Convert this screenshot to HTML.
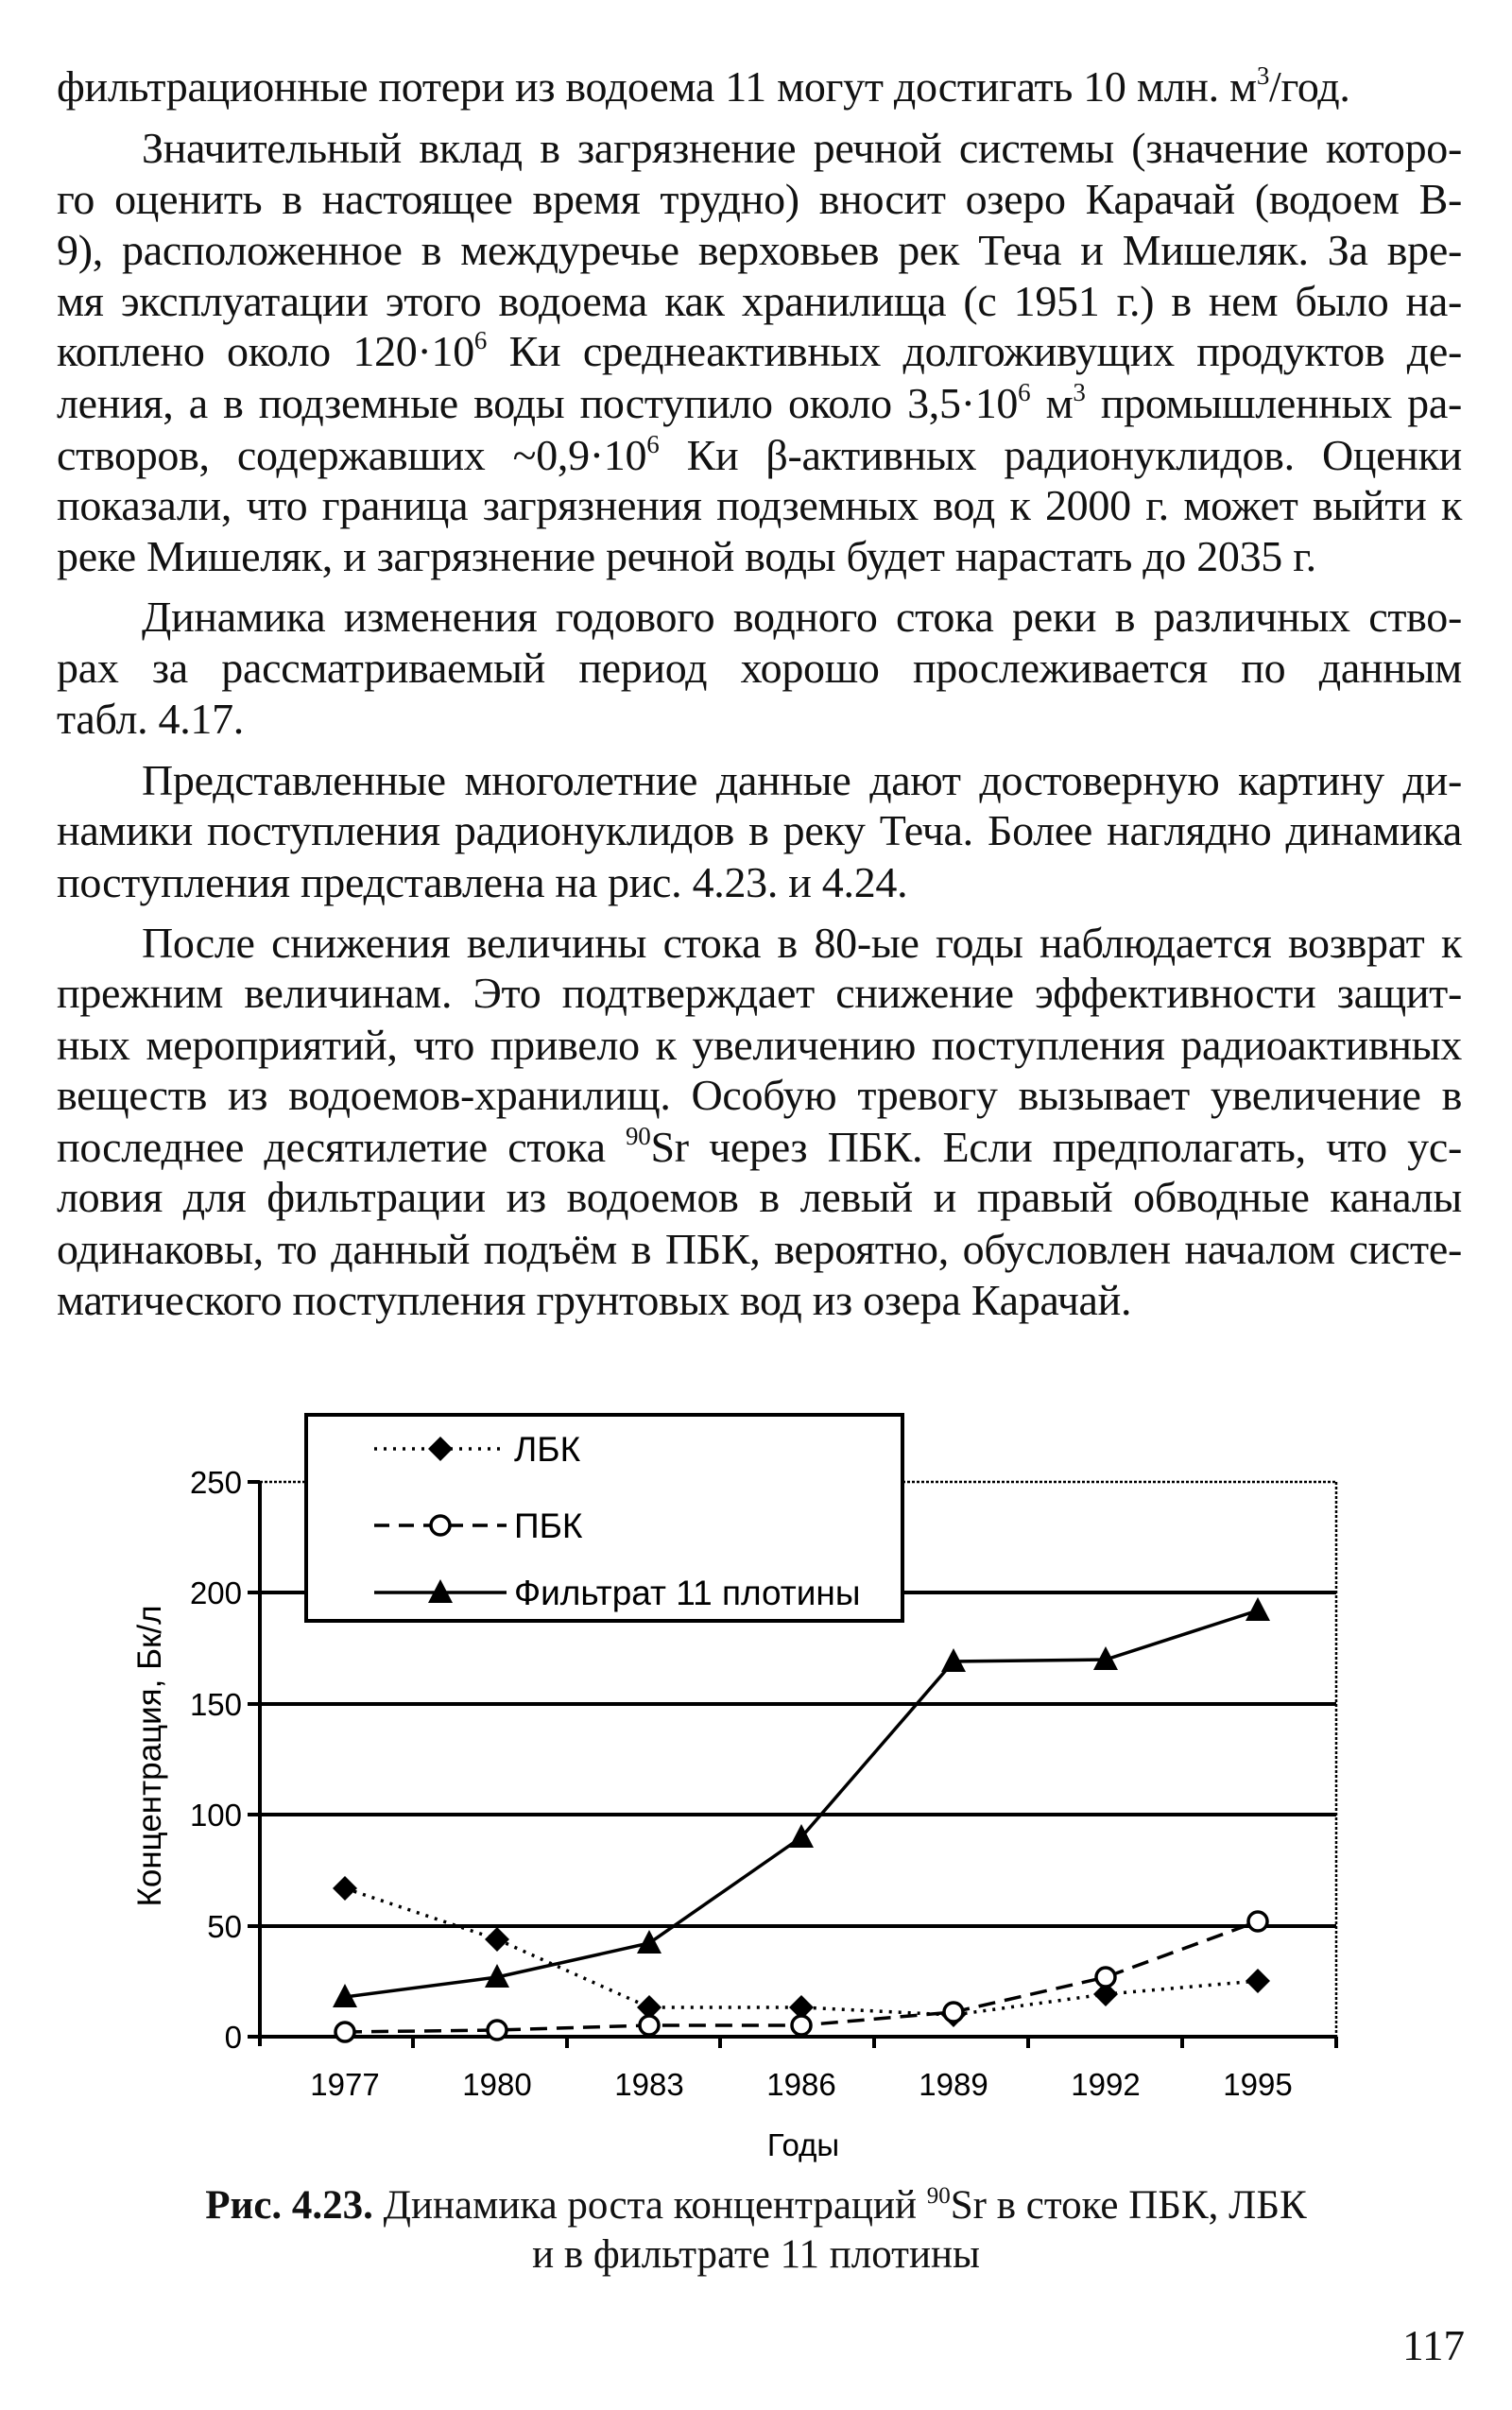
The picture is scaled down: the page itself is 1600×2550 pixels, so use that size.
<!DOCTYPE html>
<html><head><meta charset="utf-8"><style>
body{margin:0;background:#fff;width:1600px;height:2550px;position:relative;overflow:hidden;font-family:"Liberation Serif","Noto Serif CJK SC",serif;color:#111}
.l{position:absolute;left:60px;width:1487px;height:54px;line-height:54px;font-size:46px;letter-spacing:-0.3px;text-align:justify;text-align-last:justify;white-space:nowrap}
.l.n{text-align-last:left}
.l.i{left:150px;width:1397px}
sup{font-size:27px;line-height:0;vertical-align:18px}
svg{position:absolute;left:0;top:0}
</style></head><body>
<div class="l n" style="top:65px">фильтрационные потери из водоема 11 могут достигать 10 млн. м<sup>3</sup>/год.</div>
<div class="l i" style="top:130px">Значительный вклад в загрязнение речной системы (значение которо-</div>
<div class="l" style="top:184px">го оценить в настоящее время трудно) вносит озеро Карачай (водоем В-</div>
<div class="l" style="top:238px">9), расположенное в междуречье верховьев рек Теча и Мишеляк. За вре-</div>
<div class="l" style="top:292px">мя эксплуатации этого водоема как хранилища (с 1951 г.) в нем было на-</div>
<div class="l" style="top:345px">коплено около 120·10<sup>6</sup> Ки среднеактивных долгоживущих продуктов де-</div>
<div class="l" style="top:400px">ления, а в подземные воды поступило около 3,5·10<sup>6</sup> м<sup>3</sup> промышленных ра-</div>
<div class="l" style="top:455px">створов, содержавших ~0,9·10<sup>6</sup> Ки β-активных радионуклидов. Оценки</div>
<div class="l" style="top:508px">показали, что граница загрязнения подземных вод к 2000 г. может выйти к</div>
<div class="l n" style="top:562px">реке Мишеляк, и загрязнение речной воды будет нарастать до 2035 г.</div>
<div class="l i" style="top:626px">Динамика изменения годового водного стока реки в различных ство-</div>
<div class="l" style="top:680px">рах за рассматриваемый период хорошо прослеживается по данным</div>
<div class="l n" style="top:734px">табл. 4.17.</div>
<div class="l i" style="top:799px">Представленные многолетние данные дают достоверную картину ди-</div>
<div class="l" style="top:852px">намики поступления радионуклидов в реку Теча. Более наглядно динамика</div>
<div class="l n" style="top:907px">поступления представлена на рис. 4.23. и 4.24.</div>
<div class="l i" style="top:971px">После снижения величины стока в 80-ые годы наблюдается возврат к</div>
<div class="l" style="top:1024px">прежним величинам. Это подтверждает снижение эффективности защит-</div>
<div class="l" style="top:1079px">ных мероприятий, что привело к увеличению поступления радиоактивных</div>
<div class="l" style="top:1132px">веществ из водоемов-хранилищ. Особую тревогу вызывает увеличение в</div>
<div class="l" style="top:1187px">последнее десятилетие стока <sup>90</sup>Sr через ПБК. Если предполагать, что ус-</div>
<div class="l" style="top:1240px">ловия для фильтрации из водоемов в левый и правый обводные каналы</div>
<div class="l" style="top:1295px">одинаковы, то данный подъём в ПБК, вероятно, обусловлен началом систе-</div>
<div class="l n" style="top:1349px">матического поступления грунтовых вод из озера Карачай.</div>

<svg width="1600" height="2550" viewBox="0 0 1600 2550" font-family="Liberation Sans, sans-serif">
<defs>
<path id="d" d="M0,-13 L13,0 L0,13 L-13,0Z" fill="#000"/>
<circle id="c" r="10" fill="#fff" stroke="#000" stroke-width="3.5"/>
<path id="t" d="M0,-14 L13,11 L-13,11Z" fill="#000"/>
</defs>
<g stroke="#000">
<line x1="275" y1="1568" x2="1414" y2="1568" stroke-width="2.5" stroke-dasharray="3,2"/>
<line x1="1414" y1="1568" x2="1414" y2="2155" stroke-width="2.5" stroke-dasharray="3,2"/>
<line x1="275" y1="1685" x2="1414" y2="1685" stroke-width="4"/>
<line x1="275" y1="1803" x2="1414" y2="1803" stroke-width="4"/>
<line x1="275" y1="1920" x2="1414" y2="1920" stroke-width="4"/>
<line x1="275" y1="2038" x2="1414" y2="2038" stroke-width="4"/>
<line x1="275" y1="1568" x2="275" y2="2165" stroke-width="4"/>
<line x1="262" y1="2155" x2="1414" y2="2155" stroke-width="4"/>
<g stroke-width="4">
<line x1="262" y1="1568" x2="275" y2="1568"/><line x1="262" y1="1685" x2="275" y2="1685"/>
<line x1="262" y1="1803" x2="275" y2="1803"/><line x1="262" y1="1920" x2="275" y2="1920"/>
<line x1="262" y1="2038" x2="275" y2="2038"/>
<line x1="437" y1="2155" x2="437" y2="2167"/><line x1="600" y1="2155" x2="600" y2="2167"/>
<line x1="762" y1="2155" x2="762" y2="2167"/><line x1="925" y1="2155" x2="925" y2="2167"/>
<line x1="1088" y1="2155" x2="1088" y2="2167"/><line x1="1251" y1="2155" x2="1251" y2="2167"/>
<line x1="1414" y1="2155" x2="1414" y2="2167"/>
</g>
</g>
<g font-size="33" text-anchor="end" fill="#000">
<text x="256" y="1580">250</text><text x="256" y="1697">200</text><text x="256" y="1815">150</text>
<text x="256" y="1932">100</text><text x="256" y="2050">50</text><text x="256" y="2167">0</text>
</g>
<g font-size="33" text-anchor="middle" fill="#000">
<text x="365" y="2217">1977</text><text x="526" y="2217">1980</text><text x="687" y="2217">1983</text>
<text x="848" y="2217">1986</text><text x="1009" y="2217">1989</text><text x="1170" y="2217">1992</text>
<text x="1331" y="2217">1995</text>
<text x="850" y="2281">Годы</text>
<text transform="translate(170,1858) rotate(-90)" font-size="35">Концентрация, Бк/л</text>
</g>
<g fill="none" stroke="#000" stroke-width="3.5">
<polyline points="365,1998 526,2052 687,2124 848,2124 1009,2132 1170,2110 1331,2096" stroke-dasharray="3,7"/>
<polyline points="365,2150 526,2148 687,2143 848,2143 1009,2129 1170,2092 1331,2033" stroke-dasharray="18,10"/>
<polyline points="365,2113 526,2092 687,2056 848,1944 1009,1758 1170,1756 1331,1704"/>
</g>
<g>
<use href="#d" x="365" y="1998"/><use href="#d" x="526" y="2052"/><use href="#d" x="687" y="2124"/>
<use href="#d" x="848" y="2124"/><use href="#d" x="1009" y="2132"/><use href="#d" x="1170" y="2110"/><use href="#d" x="1331" y="2096"/>
<use href="#c" x="365" y="2150"/><use href="#c" x="526" y="2148"/><use href="#c" x="687" y="2143"/>
<use href="#c" x="848" y="2143"/><use href="#c" x="1009" y="2129"/><use href="#c" x="1170" y="2092"/><use href="#c" x="1331" y="2033"/>
<use href="#t" x="365" y="2113"/><use href="#t" x="526" y="2092"/><use href="#t" x="687" y="2056"/>
<use href="#t" x="848" y="1944"/><use href="#t" x="1009" y="1758"/><use href="#t" x="1170" y="1756"/><use href="#t" x="1331" y="1704"/>
</g>
<rect x="324" y="1497" width="631" height="218" fill="#fff" stroke="#000" stroke-width="4"/>
<g stroke="#000" stroke-width="3.5">
<line x1="396" y1="1533" x2="536" y2="1533" stroke-dasharray="3,7"/>
<line x1="396" y1="1614" x2="536" y2="1614" stroke-dasharray="16,10"/>
<line x1="396" y1="1685" x2="536" y2="1685"/>
</g>
<use href="#d" x="466" y="1533"/><use href="#c" x="466" y="1614"/><use href="#t" x="466" y="1685"/>
<g font-size="37" fill="#000">
<text x="544" y="1546">ЛБК</text><text x="544" y="1627">ПБК</text><text x="544" y="1698">Фильтрат 11 плотины</text>
</g>
<g font-family="Liberation Serif, serif" font-size="43" text-anchor="middle" fill="#111">
<text x="800" y="2347"><tspan font-weight="bold">Рис. 4.23.</tspan> Динамика роста концентраций <tspan font-size="25" dy="-16">90</tspan><tspan dy="16">Sr в стоке ПБК, ЛБК</tspan></text>
<text x="800" y="2399">и в фильтрате 11 плотины</text>
<text x="1550" y="2497" text-anchor="end" font-size="45">117</text>
</g>
</svg>
</body></html>
